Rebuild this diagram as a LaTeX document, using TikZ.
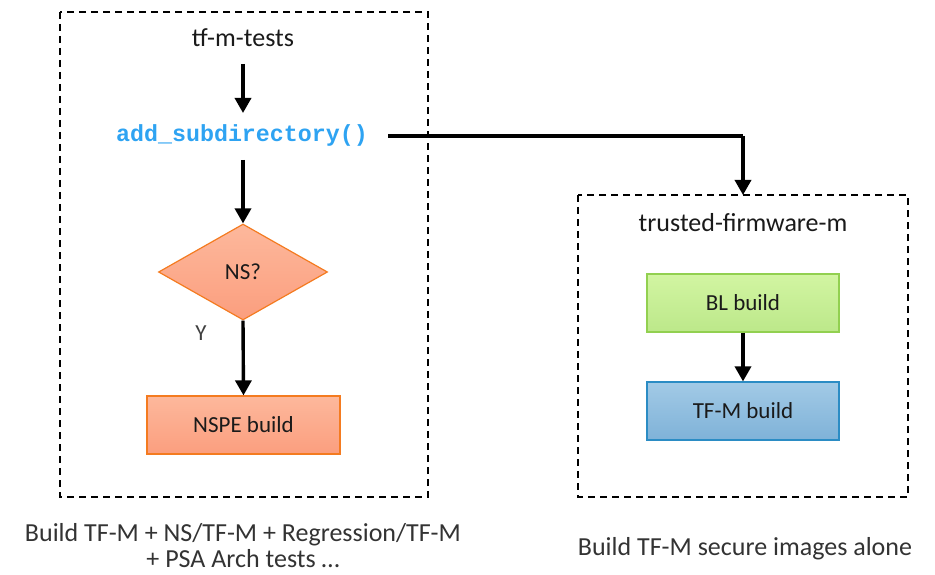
\documentclass[tikz,border=0pt]{standalone}
\usepackage{fontspec}
\setmainfont{Carlito}
\newfontfamily\codefont{Liberation Mono}
\usetikzlibrary{arrows.meta,shapes.geometric}
\definecolor{codeblue}{HTML}{2EA3F2}
\definecolor{salmonA}{HTML}{FDB89C}
\definecolor{salmonB}{HTML}{FB9E7E}
\definecolor{orangeline}{HTML}{F47B20}
\definecolor{greenA}{HTML}{D2F5A2}
\definecolor{greenB}{HTML}{BCE88A}
\definecolor{greenline}{HTML}{92D050}
\definecolor{blueA}{HTML}{A2CAE6}
\definecolor{blueB}{HTML}{7FB2D8}
\definecolor{blueline}{HTML}{2B8CC4}
\definecolor{txt}{HTML}{1A1A1A}
\tikzset{
  x=1pt, y=-1pt,
  frame/.style={draw=black, line width=2pt, dash pattern=on 7pt off 5pt},
  conn/.style={line width=3.4pt, -{Triangle[length=15pt,width=16pt]}},
  plainline/.style={line width=3.4pt},
  lbl/.style={font=\fontsize{26}{30}\selectfont, text=txt},
  boxfont/.style={font=\fontsize{23}{27}\selectfont, text=txt},
  salmonbox/.style={boxfont, draw=orangeline, line width=1.2pt, top color=salmonA, bottom color=salmonB, minimum width=193pt, minimum height=58pt},
  greenbox/.style={boxfont, draw=greenline, line width=1.2pt, top color=greenA, bottom color=greenB, minimum width=192pt, minimum height=58pt},
  bluebox/.style={boxfont, draw=blueline, line width=1.2pt, top color=blueA, bottom color=blueB, minimum width=192pt, minimum height=58pt},
  decision/.style={diamond, boxfont, draw=orangeline, line width=1.2pt, top color=salmonA, bottom color=salmonB, minimum width=169pt, minimum height=96pt, inner sep=0pt, aspect=1.76},
}
\begin{document}
\begin{tikzpicture}
\useasboundingbox (0,0) rectangle (935,575);
% frames
\draw[frame] (60,12) rectangle (428,497);
\draw[frame] (578,195) rectangle (908,497);
\coordinate (rtop) at (743,195);
% left column
\node[lbl] (tests) at (243,38) {tf-m-tests};
\node[font=\codefont\bfseries\fontsize{23.3}{27}\selectfont, text=codeblue] (addsub) at (242,135) {add\_subdirectory()};
\node[decision] (ns) at (243,272) {NS?};
\node[salmonbox] (nspe) at (243.5,425) {NSPE build};
\node[boxfont, text=black!75] (y) at (201,333) {Y};
\draw[conn] (243,64) -- (243,113);
\draw[conn] (243,160) -- (ns.north);
\draw[conn] (ns.south) -- (nspe.north);
% right column
\node[lbl] (tfm) at (743,223) {trusted-firmware-m};
\node[greenbox] (bl) at (743,303) {BL build};
\node[bluebox] (tfmb) at (743,411) {TF-M build};
\draw[conn] (bl.south) -- (tfmb.north);
% connector
\coordinate (corner) at (743,136);
\draw[plainline] (388,136) -- (corner);
\draw[conn] (corner) -- (rtop);
% captions
\node[lbl, align=center, text=black!80, inner sep=1pt] (capL) at (243,546) {Build TF-M + NS/TF-M + Regression/TF-M\\[-4pt]+ PSA Arch tests …};
\node[lbl, text=black!80] (capR) at (745,549) {Build TF-M secure images alone};
\end{tikzpicture}
\end{document}
